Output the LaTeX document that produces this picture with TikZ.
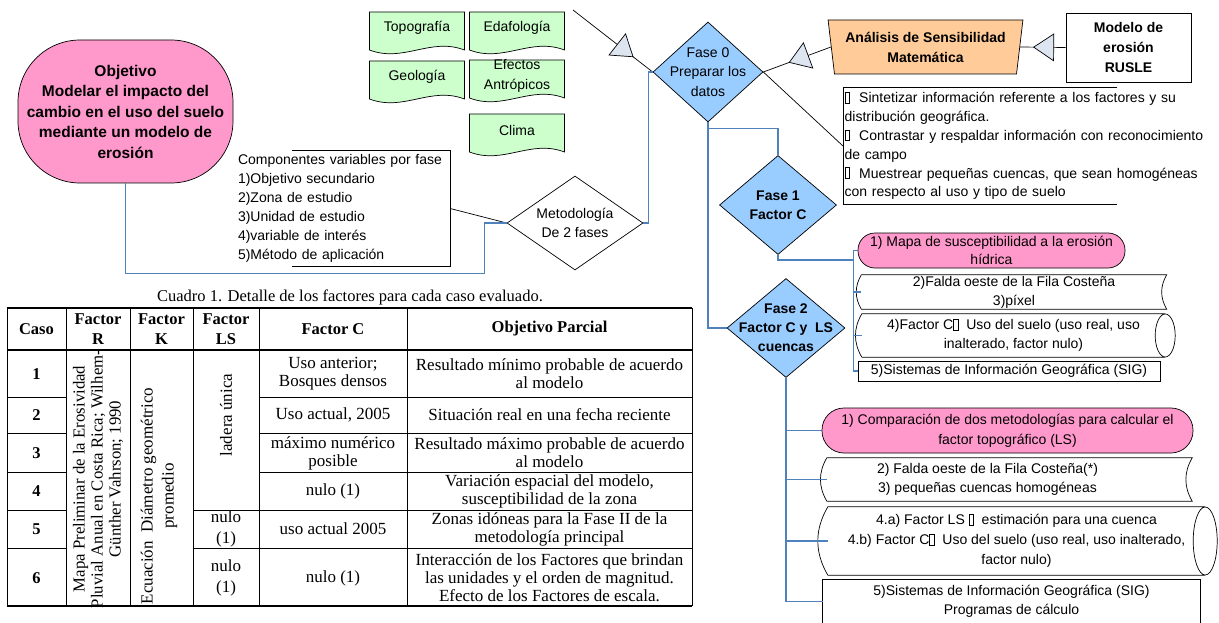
\documentclass[tikz,border=0pt]{standalone}
\usepackage{fontspec}
\setmainfont{Liberation Serif}
\setsansfont{Liberation Sans}
\usetikzlibrary{shapes.geometric,arrows.meta,decorations.markings,backgrounds}

\definecolor{objpink}{HTML}{FF99CC}
\definecolor{docgreen}{HTML}{CCFFCC}
\definecolor{phaseblue}{HTML}{99CCFF}
\definecolor{anaorange}{HTML}{FFCC99}
\definecolor{tipfill}{HTML}{DDE5F1}
\definecolor{linkblue}{HTML}{4F81BD}

\newcommand{\gapbox}{{\setlength{\fboxsep}{0pt}\setlength{\fboxrule}{0.5pt}\fbox{\rule{0pt}{0.72em}\hspace{0.3em}}}}

\tikzset{
    flow/.style={font=\sffamily\fontsize{14}{19}\selectfont, align=center, inner sep=1pt},
    flowbold/.style={flow, font=\sffamily\bfseries\fontsize{14}{19}\selectfont},
    decision/.style={diamond, draw, line width=0.7pt, fill=phaseblue, inner sep=0pt},
    pinkbox/.style={flow, draw, line width=0.7pt, fill=objpink},
    docbox/.style={flow, minimum width=95pt, minimum height=32pt},
    outline/.style={draw=black, line width=0.7pt},
    tabtxt/.style={font=\fontsize{17}{18}\selectfont, align=center, inner sep=0pt},
    tabhead/.style={tabtxt, font=\bfseries\fontsize{16.5}{20}\selectfont},
    bluelink/.style={draw=linkblue, line width=1.3pt},
    plainlink/.style={draw=black, line width=0.7pt},
    trilink/.style={
        plainlink,
        postaction=decorate,
        decoration={
            markings,
            mark=at position #1
                with {\arrow{Triangle[length=21pt,width=28pt,fill=tipfill]}},
            },
    },
}

\begin{document}
\begin{tikzpicture}[x=1pt,y=1pt]
    \useasboundingbox (0,0) rectangle (1219,-623);

    % objetivo y datos
    \node[pinkbox, font=\sffamily\bfseries\fontsize{15.5}{20.5}\selectfont,
        minimum width=215pt, minimum height=143pt, rounded corners=62pt]
        (obj) at (125.5,-111.5) {Objetivo\\Modelar el impacto del\\cambio en el uso del suelo\\mediante un modelo de\\erosión};
    \node[docbox] (topo) at (417,-28) {Topografía};
    \node[docbox] (edaf) at (517,-28) {Edafología};
    \node[docbox] (geol) at (417,-77) {Geología};
    \node[docbox, font=\sffamily\fontsize{14}{20}\selectfont] (efec) at (517,-76) {Efectos\\Antrópicos};
    \node[docbox] (clim) at (517,-130) {Clima};

    \node[flow, align=left, text width=210pt, minimum height=115pt, inner sep=2pt]
        (comp) at (343,-208.5) {Componentes variables por fase\\1)Objetivo secundario\\2)Zona de estudio\\3)Unidad de estudio\\4)variable de interés\\5)Método de aplicación};
    \draw[outline] ([xshift=56pt]comp.north west) -- (comp.north east) -- (comp.south east) -- ([xshift=56pt]comp.south west);

    % rombos
    \node[decision, fill=white, minimum width=136pt, minimum height=94pt,
        label={[flow]center:Metodología\\De 2 fases}] (meto) at (575,-223) {};
    \node[decision, minimum width=110pt, minimum height=100pt,
        label={[flow, font=\sffamily\fontsize{14}{19.5}\selectfont]center:Fase 0\\Preparar los\\datos}] (fase0) at (708,-72) {};
    \node[decision, minimum width=117pt, minimum height=99pt,
        label={[flowbold]center:Fase 1\\Factor C}] (fase1) at (778,-205) {};
    \node[decision, minimum width=118pt, minimum height=99pt,
        label={[flowbold]center:{Fase 2\\Factor C y\ \ LS\\cuencas}}] (fase2) at (786,-328) {};

    \node[trapezium, draw, line width=0.7pt, fill=anaorange, shape border rotate=180,
        trapezium stretches=true, trapezium angle=80, minimum width=195pt, minimum height=54pt,
        flowbold, font=\sffamily\bfseries\fontsize{14}{20}\selectfont]
        (anal) at (925.5,-47) {Análisis de Sensibilidad\\Matemática};
    \node[flowbold, draw, line width=0.7pt, minimum width=125pt, minimum height=69pt,
        font=\sffamily\bfseries\fontsize{14}{20}\selectfont]
        (modelo) at (1128.5,-47.5) {Modelo de\\erosión\\RUSLE};

    \node[flow, align=left, text width=380pt, minimum height=116pt, inner sep=1.5pt, anchor=west,
        font=\sffamily\fontsize{14}{18.8}\selectfont]
        (bul) at (843,-146) {\gapbox\ \ Sintetizar información referente a los factores y su\\distribución geográfica.\\\gapbox\ \ Contrastar y respaldar información con reconocimiento\\de campo\\\gapbox\ \ Muestrear pequeñas cuencas, que sean homogéneas\\con respecto al uso y tipo de suelo};
    \draw[outline] ([xshift=274pt]bul.north west) -- (bul.north west) -- (bul.south west) -- ([xshift=274pt]bul.south west);

    % salidas fase 1
    \node[pinkbox, minimum width=267pt, minimum height=35pt, rounded corners=17pt,
        font=\sffamily\fontsize{14}{18}\selectfont]
        (r1a) at (991.5,-250.5) {1) Mapa de susceptibilidad a la erosión\\hídrica};
    \node[flow, minimum width=305pt, minimum height=34pt] (r1b) at (1014,-292) {2)Falda oeste de la Fila Costeña\\3)píxel};
    \node[flow, minimum width=303pt, minimum height=43pt] (r1c) at (1013.5,-335.5) {4)Factor C\gapbox\ \ Uso del suelo (uso real, uso\\inalterado, factor nulo)};
    \node[flow, draw, line width=0.7pt, minimum width=302pt, minimum height=20pt, inner sep=0pt]
        (r1d) at (1009,-371) {5)Sistemas de Información Geográfica (SIG)};

    % salidas fase 2
    \node[pinkbox, minimum width=371pt, minimum height=45pt, rounded corners=22pt,
        font=\sffamily\fontsize{14}{20}\selectfont]
        (r2a) at (1007.5,-430.5) {1) Comparación de dos metodologías para calcular el\\factor topográfico (LS)};
    \node[minimum width=365pt, minimum height=43pt,
        label={[flow, xshift=-22pt]center:2) Falda oeste de la Fila Costeña(*)\\3) pequeñas cuencas homogéneas}]
        (r2b) at (1009.5,-479.5) {};
    \node[flow, minimum width=377pt, minimum height=68pt, font=\sffamily\fontsize{14}{20}\selectfont]
        (r2c) at (1016.5,-541) {4.a) Factor LS \gapbox\ \ estimación para una cuenca\\4.b) Factor C\gapbox\ \ Uso del suelo (uso real, uso inalterado,\\factor nulo)};
    \node[flow, minimum width=377pt, minimum height=43pt]
        (r2d) at (1011.5,-601.5) {5)Sistemas de Información Geográfica (SIG)\\Programas de cálculo};
    \draw[outline] (r2d.south west) -- (r2d.north west) -- (r2d.north east) -- (r2d.south east);

    % almacenamiento y cilindros
    \foreach \s in {r1b,r2b}
        \draw[outline] (\s.north west) -- (\s.north east) to[bend right=30] (\s.south east)
            -- (\s.south west) to[bend left=30] (\s.north west);
    \draw[outline] (r1c.south west) to[bend left=30] (r1c.north west) -- (r1c.north east)
        (r1c.south west) -- (r1c.south east)
        (r1c.east) ellipse [x radius=10pt, y radius=21.5pt];
    \draw[outline] (r2c.south west) to[bend left=30] (r2c.north west) -- (r2c.north east)
        (r2c.south west) -- (r2c.south east)
        (r2c.east) ellipse [x radius=12pt, y radius=34pt];

    % conectores
    \coordinate (datsrc) at (573,-10);
    \draw[trilink=-24pt] (datsrc) -- (fase0.west);
    \draw[trilink=-27pt] (anal.west) -- (fase0.east);
    \draw[trilink=-13pt] (modelo.west) -- (anal.east);
    \draw[plainlink] (fase0.east) -- (bul.west);
    \draw[plainlink] (comp.east) -- (meto.west);

    \draw[bluelink] (obj.south) -- ++(0,-90) -| ([xshift=-22pt]meto.west) -- (meto.west);
    \draw[bluelink] (meto.east) -- ++(5,0) |- (fase0.west);
    \draw[bluelink] (fase0.south) -- ++(0,-6) -| (fase1.north);
    \draw[bluelink] (fase0.south) |- (fase2.west);
    \draw[bluelink] (fase1.south) -- ++(0,-5) -| ([xshift=-4pt]r1a.west) -- (r1a.west);
    \foreach \b in {r1b,r1c,r1d}
        \draw[bluelink] ([xshift=-4pt]r1a.west) |- (\b.west);
    \foreach \b in {r2a,r2b,r2c,r2d}
        \draw[bluelink] (fase2.south) |- (\b.west);

    \begin{scope}[on background layer]
        \foreach \d in {topo,edaf,geol,efec,clim}
            \filldraw[outline, fill=docgreen] ([shift={(-47.5,16)}]\d.center) -- ([shift={(47.5,16)}]\d.center)
                -- ([shift={(47.5,-22)}]\d.center) .. controls +(-34,13) and +(34,-13) .. ([shift={(-47.5,-22)}]\d.center) -- cycle;
    \end{scope}

    % cuadro 1
    \node[tabtxt, font=\fontsize{16.5}{18}\selectfont] (cap) at (350,-297) {Cuadro 1. Detalle de los factores para cada caso evaluado.};
    \draw[line width=1.3pt] (7,-308) -- (692,-308);
    \draw[line width=1.1pt] (7,-350) -- (692,-350);
    \draw[line width=1.3pt] (7,-606) -- (692,-606);
    \foreach \x in {7,66,130,193,259,407,692}
        \draw[line width=0.8pt] (\x,-308) -- (\x,-606);
    \foreach \y in {397,433,472} {
        \draw[line width=0.9pt] (7,-\y) -- (66,-\y);
        \draw[line width=0.9pt] (259,-\y) -- (692,-\y);
    }
    \foreach \y in {510,548} {
        \draw[line width=0.9pt] (7,-\y) -- (66,-\y);
        \draw[line width=0.9pt] (193,-\y) -- (692,-\y);
    }

    \node[tabhead] (hcaso) at (36.5,-329) {Caso};
    \node[tabhead] (hfr) at (98,-329) {Factor\\R};
    \node[tabhead] (hfk) at (161.5,-329) {Factor\\K};
    \node[tabhead] (hfls) at (226,-329) {Factor\\LS};
    \node[tabhead] (hfc) at (333,-329) {Factor C};
    \node[tabhead] (hobj) at (549.5,-329) {Objetivo Parcial};

    \foreach \y/\n/\fc/\ob in {
        374/1/{Uso anterior;\\Bosques densos}/{Resultado mínimo probable de acuerdo\\al modelo},
        415/2/{Uso actual, 2005}/{Situación real en una fecha reciente},
        453/3/{máximo numérico\\posible}/{Resultado máximo probable de acuerdo\\al modelo},
        491/4/{nulo (1)}/{Variación espacial del modelo,\\susceptibilidad de la zona},
        529/5/{uso actual 2005}/{Zonas idóneas para la Fase II de la\\metodología principal},
        578/6/{nulo (1)}/{Interacción de los Factores que brindan\\las unidades y el orden de magnitud.\\Efecto de los Factores de escala.}}
    {
        \node[tabhead] (caso\n) at (36.5,-\y) {\n};
        \node[tabtxt] (fc\n) at (333,-\y) {\fc};
        \node[tabtxt] (ob\n) at (549.5,-\y) {\ob};
    }
    \node[tabtxt, rotate=90, font=\fontsize{16.8}{18}\selectfont] (facr) at (98,-479) {Mapa Preliminar de la Erosividad\\Pluvial Anual en Costa Rica; Wilhem-\\Günther Vahrson; 1990};
    \node[tabtxt, rotate=90, font=\fontsize{17}{21}\selectfont] (fack) at (159,-496) {Ecuación\ \ Diámetro geométrico\\promedio};
    \node[tabtxt, rotate=90] (facls) at (226,-415) {ladera única};
    \node[tabtxt, font=\fontsize{17}{21}\selectfont] (ls5) at (226,-529) {nulo\\(1)};
    \node[tabtxt, font=\fontsize{17}{21}\selectfont] (ls6) at (226,-578) {nulo\\(1)};
\end{tikzpicture}
\end{document}
